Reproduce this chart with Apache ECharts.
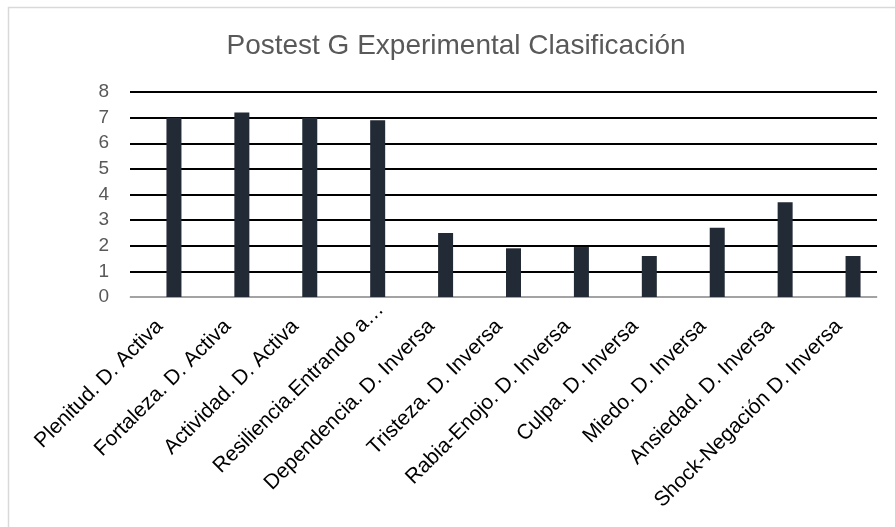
<!DOCTYPE html>
<html>
<head>
<meta charset="utf-8">
<script src="https://cdn.jsdelivr.net/npm/echarts@6/dist/echarts.min.js"></script>
<style>
  html, body { margin: 0; padding: 0; background: #fff; }
  #chart { width: 895px; height: 527px; }
</style>
</head>
<body>
<div id="chart"></div>
<script>
// Categories and mean scores of the post-test, experimental group
var categories = [
  'Plenitud. D. Activa',
  'Fortaleza. D. Activa',
  'Actividad. D. Activa',
  'Resiliencia.Entrando a…',
  'Dependencia. D. Inversa',
  'Tristeza. D. Inversa',
  'Rabia-Enojo. D. Inversa',
  'Culpa. D. Inversa',
  'Miedo. D. Inversa',
  'Ansiedad. D. Inversa',
  'Shock-Negación D. Inversa'
];
var scores = [7.0, 7.2, 7.0, 6.9, 2.5, 1.9, 1.95, 1.6, 2.7, 3.7, 1.6];
var yTicks = [0, 1, 2, 3, 4, 5, 6, 7, 8];
var chartTitle = 'Postest G Experimental Clasificación';

var font = '"Liberation Sans", Arial, sans-serif';
var chart = echarts.init(document.getElementById('chart'), null, { renderer: 'canvas' });

var yMin = yTicks[0];
var yMax = yTicks[yTicks.length - 1];

// The truncated label sits a little further along its slant than the others
var labelData = categories.map(function (name) {
  if (name.indexOf('…') >= 0) {
    return { value: name, textStyle: { padding: [0, -18, 0, 0] } };
  }
  return name;
});

chart.setOption({
  animation: false,
  backgroundColor: '#ffffff',
  title: {
    text: chartTitle,
    left: 451,
    top: 27,
    textAlign: 'center',
    textStyle: { fontFamily: font, fontSize: 28, fontWeight: 'normal', color: '#595959' }
  },
  graphic: [{
    type: 'rect',
    shape: { x: 8.5, y: 7.5, width: 1000, height: 1000 },
    style: { fill: 'none', stroke: '#d9d9d9', lineWidth: 1.5 },
    silent: true
  }],
  grid: [
    { left: 130, right: 18, top: 92, bottom: 230, containLabel: false },
    { left: 140, right: 8, top: 92, bottom: 230, containLabel: false }
  ],
  xAxis: [{
    type: 'category',
    gridIndex: 0,
    data: labelData,
    axisLine: { show: true, lineStyle: { color: '#d9d9d9', width: 1.5 } },
    axisTick: { show: false },
    axisLabel: {
      interval: 0,
      rotate: 45,
      margin: 22,
      padding: [0, 6, 0, 0],
      fontFamily: font,
      fontSize: 21,
      color: '#000000'
    }
  }, {
    type: 'category',
    gridIndex: 1,
    data: categories,
    show: false
  }],
  yAxis: [{
    type: 'value',
    gridIndex: 0,
    min: yMin,
    max: yMax,
    interval: 1,
    axisLine: { show: false },
    axisTick: { show: false },
    axisLabel: { margin: 21, fontFamily: font, fontSize: 19, color: '#595959' },
    splitLine: { show: true, lineStyle: { color: '#000000', width: 2 } }
  }, {
    type: 'value',
    gridIndex: 1,
    min: yMin,
    max: yMax,
    interval: 1,
    show: false,
    splitLine: { show: false }
  }],
  series: [{
    type: 'bar',
    xAxisIndex: 1,
    yAxisIndex: 1,
    data: scores,
    barWidth: 15,
    itemStyle: { color: '#222a35' },
    z: 3
  }]
});
</script>
</body>
</html>
